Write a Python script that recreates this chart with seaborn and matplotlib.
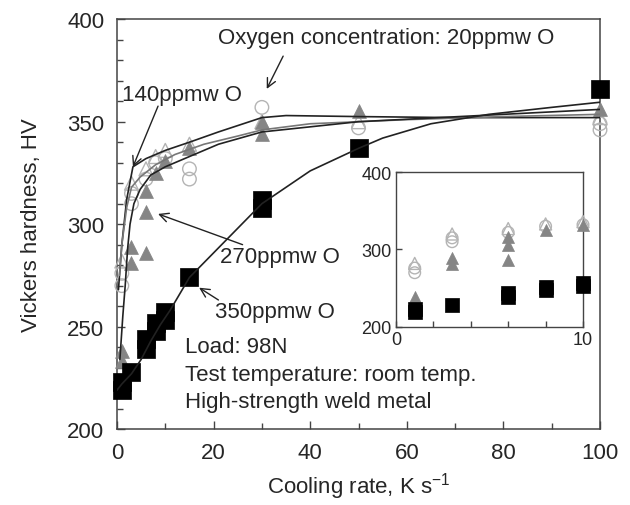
import numpy as np
import pandas as pd
import matplotlib
matplotlib.use("Agg")
import matplotlib.pyplot as plt
from matplotlib.ticker import MultipleLocator, FixedLocator
import seaborn as sns

# ---------------- data ----------------
x_20 = [1, 1, 3, 3, 6, 8, 10, 15, 15, 30, 50, 100, 100]
hv_20 = [270, 276, 310, 315, 322, 330, 332, 322, 327, 357, 347, 346, 349]

x_140 = [1, 3, 6, 8, 10, 15, 30, 50, 100]
hv_140 = [282, 320, 327, 333, 336, 339, 350, 350, 352]

x_270 = [1, 1, 3, 3, 6, 6, 6, 8, 10, 15, 30, 30, 50, 100]
hv_270 = [233, 238, 281, 289, 286, 306, 316, 325, 331, 337, 344, 350, 355, 356]

x_350 = [1, 1, 3, 6, 6, 8, 8, 10, 10, 15, 30, 30, 50, 100]
hv_350 = [219, 223, 228, 239, 244, 248, 252, 253, 257, 274, 308, 312, 337, 366]

# fitted curves
fit20_x = [0.3, 1, 2, 3.3, 6, 10, 15, 21, 30, 35, 50, 70, 100]
fit20_y = [268, 290, 312, 328, 332, 336, 340, 345, 352, 353, 352.5, 352, 352]

fit140_x = [0.5, 1, 2, 3, 4.8, 8, 12, 18, 25, 30, 40, 60, 80, 100]
fit140_y = [275, 290, 308, 318, 323, 329, 334, 339, 343, 346, 349, 351, 352.5, 353.6]

fit270_x = [0.6, 1.2, 1.7, 2.2, 2.7, 3.5, 4.8, 7, 10, 15, 21, 30, 50, 75, 100]
fit270_y = [234, 255, 270, 288, 300, 310, 317, 324, 328, 333, 339, 345, 350, 353, 356]

fit350_x = [0, 1, 3, 5, 7, 9, 11, 15, 20, 25, 30, 40, 50, 55, 65, 77, 90, 100]
fit350_y = [219, 222, 227, 234, 243, 251, 258, 274, 286, 298, 310, 326, 337, 342, 349, 353.6, 357, 359.5]

main_xticks = [0, 20, 40, 60, 80, 100]
main_yticks = [200, 250, 300, 350, 400]
inset_xticks = [0, 10]
inset_yticks = [200, 300, 400]

# ---------------- styling ----------------
sns.set_theme(style="white")
plt.rcParams['font.family'] = ['Liberation Sans', 'DejaVu Sans']
plt.rcParams['mathtext.fontset'] = 'custom'
plt.rcParams['mathtext.rm'] = 'Liberation Sans'

LIGHT = "#b4b4b4"
GRAY = "#858585"
SPINE = "#444444"

fig = plt.figure(figsize=(6.3, 5.06), dpi=100)
ax = fig.add_axes([0.1857, 0.150, 0.7667, 0.810])

def draw_points(a, s_sq, s_tri, s_circ):
    sns.scatterplot(x=x_20, y=hv_20, ax=a, marker="o", s=s_circ,
                    facecolors="none", edgecolor=LIGHT, linewidth=1.0, zorder=3, clip_on=False)
    sns.scatterplot(x=x_140, y=hv_140, ax=a, marker="^", s=s_tri,
                    facecolors="none", edgecolor=LIGHT, linewidth=1.0, zorder=3, clip_on=False)
    sns.scatterplot(x=x_270, y=hv_270, ax=a, marker="^", s=s_tri,
                    color=GRAY, edgecolor=GRAY, linewidth=0.5, zorder=4, clip_on=False)
    sns.scatterplot(x=x_350, y=hv_350, ax=a, marker="s", s=s_sq,
                    color="black", edgecolor="black", linewidth=0.5, zorder=5, clip_on=False)

draw_points(ax, 150, 100, 95)

sns.lineplot(x=fit20_x, y=fit20_y, ax=ax, sort=False, estimator=None, color="#222222", lw=1.2, zorder=6)
sns.lineplot(x=fit140_x, y=fit140_y, ax=ax, sort=False, estimator=None, color="#777777", lw=1.2, zorder=6)
sns.lineplot(x=fit270_x, y=fit270_y, ax=ax, sort=False, estimator=None, color="#222222", lw=1.2, zorder=6)
sns.lineplot(x=fit350_x, y=fit350_y, ax=ax, sort=False, estimator=None, color="#222222", lw=1.2, zorder=6)

ax.set_xlim(0, 100)
ax.set_ylim(200, 400)
ax.xaxis.set_major_locator(FixedLocator(main_xticks))
ax.yaxis.set_major_locator(FixedLocator(main_yticks))
ax.xaxis.set_minor_locator(MultipleLocator(10))
ax.yaxis.set_minor_locator(MultipleLocator(10))
ax.tick_params(axis="both", which="both", direction="in", top=False, right=False,
               bottom=True, left=True, color=SPINE, labelsize=16, pad=9)
ax.tick_params(which="major", length=6, width=1)
ax.tick_params(which="minor", length=4, width=1)
for sp in ax.spines.values():
    sp.set_color(SPINE)
    sp.set_linewidth(1.1)

ax.set_xlabel(r"Cooling rate, K s$^{\mathregular{-1}}$", fontsize=16)
ax.set_ylabel("Vickers hardness, HV", fontsize=16)
ax.xaxis.set_label_coords(0.5, -0.10)
ax.yaxis.set_label_coords(-0.155, 0.5)

# annotations
fs = 16
ax.text(20.9, 391, "Oxygen concentration: 20ppmw O", fontsize=fs, va="center", ha="left")
ax.text(1.0, 363.4, "140ppmw O", fontsize=fs, va="center", ha="left")
ax.text(21.3, 284, "270ppmw O", fontsize=fs, va="center", ha="left")
ax.text(20.3, 257.6, "350ppmw O", fontsize=fs, va="center", ha="left")
ax.text(14, 240.5, "Load: 98N", fontsize=fs, va="center", ha="left")
ax.text(14, 226.8, "Test temperature: room temp.", fontsize=fs, va="center", ha="left")
ax.text(14, 213.7, "High-strength weld metal", fontsize=fs, va="center", ha="left")

arrow_kw = dict(arrowstyle="->", color="#222222", lw=1.0, mutation_scale=16,
                shrinkA=0, shrinkB=0)
ax.annotate("", xy=(31, 366), xytext=(34.4, 382), arrowprops=arrow_kw)
ax.annotate("", xy=(3.3, 328), xytext=(8.5, 357.6), arrowprops=arrow_kw)
ax.annotate("", xy=(8.5, 305), xytext=(26, 290), arrowprops=arrow_kw)
ax.annotate("", xy=(17, 269), xytext=(21, 263), arrowprops=arrow_kw)

# ---------------- inset ----------------
ins = fig.add_axes([0.6286, 0.352, 0.2968, 0.306])
ins.set_facecolor("white")
ins.set_zorder(10)
draw_points(ins, 100, 75, 70)
ins.set_xlim(0, 10)
ins.set_ylim(200, 400)
ins.xaxis.set_major_locator(FixedLocator(inset_xticks))
ins.yaxis.set_major_locator(FixedLocator(inset_yticks))
ins.xaxis.set_minor_locator(MultipleLocator(2))
ins.tick_params(axis="both", which="both", direction="in", top=False, right=False,
                bottom=True, left=True, color=SPINE, labelsize=13, pad=3)
ins.tick_params(which="major", length=4, width=1)
ins.tick_params(which="minor", length=4, width=1)
for sp in ins.spines.values():
    sp.set_color(SPINE)
    sp.set_linewidth(1.0)
ins.set_xlabel("")
ins.set_ylabel("")

fig.savefig("out.png", dpi=100, facecolor="white")
